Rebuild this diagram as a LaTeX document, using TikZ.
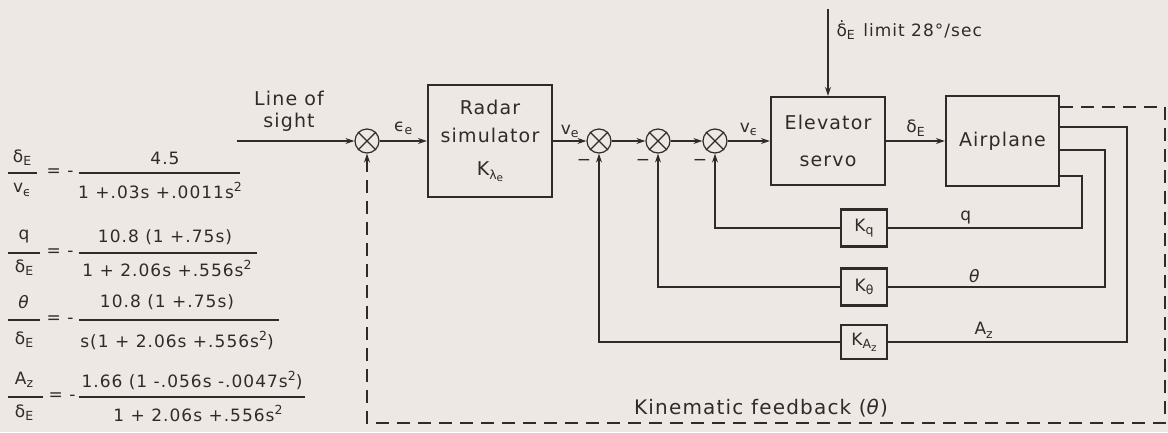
\documentclass[tikz,border=0pt]{standalone}
\usepackage{fontspec}
\setmainfont{DejaVu Sans}[LetterSpace=6]
\usetikzlibrary{arrows.meta,calc}
\definecolor{paper}{RGB}{238,232,228}
\definecolor{ink}{RGB}{48,42,40}
\newcommand{\lsub}[1]{\raisebox{-0.35ex}{\fontsize{12.5}{13}\selectfont#1}}
\newcommand{\lsubb}[1]{\raisebox{-0.35ex}{\fontsize{10.5}{11}\selectfont#1}}
\newcommand{\lsup}[1]{\raisebox{0.75ex}{\fontsize{12.5}{13}\selectfont#1}}
\tikzset{
  blk/.style={draw=ink,line width=2.3pt,align=center,inner sep=0pt},
  bigtxt/.style={font=\fontsize{19}{24}\selectfont},
  sumnode/.style={draw=ink,circle,line width=1.2pt,minimum size=24pt,inner sep=0pt},
  sig/.style={draw=ink,line width=1.2pt},
  arr/.style={sig,-{Stealth[length=9pt,width=6pt]}},
  fbdash/.style={sig,line width=1.5pt,dash pattern=on 13pt off 8pt},
}

\begin{document}
\begin{tikzpicture}[x=1pt,y=-1pt,font=\fontsize{17}{22}\selectfont,text=ink]
\fill[paper] (0,0) rectangle (1168,432);
\useasboundingbox (0,0) rectangle (1168,432);

% blocks
\node[blk,bigtxt,minimum width=124pt,minimum height=112pt] (radar) at (490,141) {Radar\\[4pt]simulator\\[9pt]K\lsub{λ\lsubb{e}}};
\node[blk,bigtxt,minimum width=114pt,minimum height=88pt] (elev) at (828,141) {Elevator\\[13pt]servo};
\node[blk,bigtxt,minimum width=113pt,minimum height=90pt] (air) at (1002.5,141) {Airplane};
\node[blk,minimum width=46pt,minimum height=37pt] (kq) at (864,228) {K\lsub{q}};
\node[blk,minimum width=46pt,minimum height=37pt] (kth) at (864,287) {K\lsub{θ}};
\node[blk,minimum width=46pt,minimum height=34pt] (kaz) at (864,342) {K\lsub{A\lsubb{z}}};

% summing junctions
\foreach \n/\x in {s1/367,sA/599,sB/658,sC/715}{
  \node[sumnode] (\n) at (\x,141) {};
  \draw[sig] (\n.45) -- (\n.225) (\n.135) -- (\n.315);
}
\foreach \n in {sA,sB,sC} \node (m\n) at ($(\n)+(-15,21)$) {−};

% forward path
\coordinate (los) at (237,141);
\node[bigtxt,align=center] (lostxt) at (289,111) {Line of\\[-2pt]sight};
\draw[arr] (los) -- (s1.west);
\draw[arr] (s1.east) -- node[above=2pt]{ϵ\lsub{e}} (radar.west);
\draw[arr] (radar.east) -- node[above=-1pt]{v\lsub{e}} (sA.west);
\draw[arr] (sA) -- (sB);
\draw[arr] (sB) -- (sC);
\draw[arr] (sC.east) -- node[above=1pt]{v\lsub{ϵ}} (elev.west);
\draw[arr] (elev.east) -- node[above=1pt]{δ\lsub{E}} (air.west);

\coordinate (lim) at (828,9);
\draw[arr] (lim) -- (elev.north);
\node[anchor=west] (limtxt) at (833,30) {\.{δ}\lsub{E}\hspace{0.5em}limit 28°/sec};

% feedback loops
\coordinate (o1) at ($(air.east)+(0,-34)$);
\coordinate (o2) at ($(air.east)+(0,-14)$);
\coordinate (o3) at ($(air.east)+(0,9)$);
\coordinate (o4) at ($(air.east)+(0,35)$);
\coordinate (xq) at (1082,0); \coordinate (xt) at (1105,0);
\coordinate (xa) at (1127,0); \coordinate (xd) at (1165,0);
\coordinate (yb) at (0,423);

\draw[sig] (o4) -- (o4 -| xq) |- node[pos=0.8,above]{q} (kq.east);
\draw[arr] (kq.west) -| (sC.south);
\draw[sig] (o3) -- (o3 -| xt) |- node[pos=0.8,above]{\textit{θ}} (kth.east);
\draw[arr] (kth.west) -| (sB.south);
\draw[sig] (o2) -- (o2 -| xa) |- node[pos=0.8,above]{A\lsub{z}} (kaz.east);
\draw[arr] (kaz.west) -| (sA.south);

\draw[fbdash,-{Stealth[length=9pt,width=6pt]}] (o1) -- (o1 -| xd) -- (xd |- yb) -- (yb -| s1) -- (s1.south);
\node[font=\fontsize{20}{24}\selectfont] (kin) at (761,408) {Kinematic feedback (\textit{θ})};

% transfer functions
\node (e1n) at (22,158) {δ\lsub{E}};
\node (e1d) at (22,190) {v\lsub{ϵ}};
\node (e1q) at (60,173) {= -};
\node (e1t) at (165,158) {4.5};
\node (e1b) at (160,190) {1 +.03s +.0011s\lsup{2}};
\draw[sig] (8,173) -- (37,173) (79,173) -- (240,173);

\node (e2n) at (24,237) {q};
\node (e2d) at (24,268) {δ\lsub{E}};
\node (e2q) at (60,253) {= -};
\node (e2t) at (165,237) {10.8 (1 +.75s)};
\node (e2b) at (167,268) {1 + 2.06s +.556s\lsup{2}};
\draw[sig] (8,253) -- (40,253) (79,253) -- (257,253);

\node (e3n) at (24,302) {\textit{θ}};
\node (e3d) at (24,340) {δ\lsub{E}};
\node (e3q) at (60,320) {= -};
\node (e3t) at (167,302) {10.8 (1 +.75s)};
\node (e3b) at (177,340) {s(1 + 2.06s +.556s\lsup{2})};
\draw[sig] (8,320) -- (40,320) (79,320) -- (279,320);

\node (e4n) at (24,380) {A\lsub{z}};
\node (e4d) at (24,413) {δ\lsub{E}};
\node (e4q) at (62,397) {= -};
\node (e4t) at (192,380) {1.66 (1 -.056s -.0047s\lsup{2})};
\node (e4b) at (198,413) {1 + 2.06s +.556s\lsup{2}};
\draw[sig] (8,397) -- (43,397) (79,397) -- (305,397);
\end{tikzpicture}
\end{document}
